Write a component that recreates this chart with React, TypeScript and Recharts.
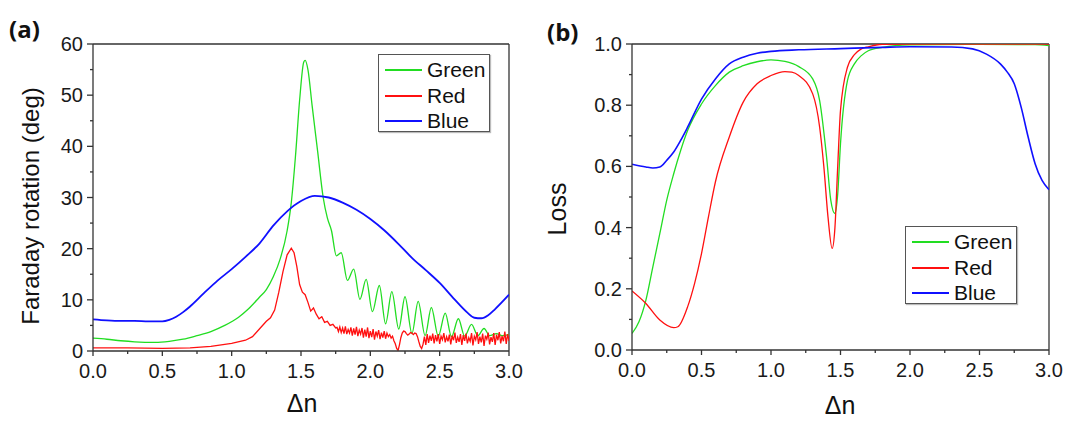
import React from "react";
import { LineChart, Line, XAxis, YAxis, ReferenceLine } from "recharts";

// Δn axis (shared by both panels)
const deltaNTicks = [0, 0.25, 0.5, 0.75, 1, 1.25, 1.5, 1.75, 2, 2.25, 2.5, 2.75, 3];
const deltaNLabels = [0, 0.5, 1, 1.5, 2, 2.5, 3];

// panel (a) y axis
const rotationTicks = [0, 5, 10, 15, 20, 25, 30, 35, 40, 45, 50, 55, 60];
const rotationLabels = [0, 10, 20, 30, 40, 50, 60];

// panel (b) y axis
const lossTicks = [0, 0.1, 0.2, 0.3, 0.4, 0.5, 0.6, 0.7, 0.8, 0.9, 1];
const lossLabels = [0, 0.2, 0.4, 0.6, 0.8, 1];

// Faraday rotation (deg) vs Δn
const rotationGreen: [number, number][] = [
  [0, 2.5], [0.1, 2.3], [0.2, 2.0], [0.3, 1.8], [0.45, 1.7], [0.55, 1.9], [0.65, 2.3],
  [0.75, 3.0], [0.85, 3.8], [0.95, 5.0], [1.05, 6.6], [1.12, 8.2], [1.2, 10.5], [1.25, 12.0],
  [1.3, 14.5], [1.35, 18.0], [1.4, 23.5], [1.43, 29], [1.46, 38], [1.49, 49], [1.52, 56.5],
  [1.53, 56.8], [1.55, 55], [1.58, 48], [1.62, 39], [1.66, 30], [1.69, 26], [1.72, 23.5],
  [1.755, 18.6], [1.79, 19.2], [1.835, 13.8], [1.88, 16.0], [1.925, 10.1], [1.97, 14.0],
  [2.015, 7.7], [2.065, 12.8], [2.11, 5.3], [2.155, 11.6], [2.205, 4.3], [2.25, 10.6],
  [2.3, 3.4], [2.345, 9.7], [2.395, 3.0], [2.44, 8.5], [2.49, 2.9], [2.54, 7.4], [2.585, 2.8],
  [2.635, 6.3], [2.68, 2.9], [2.73, 5.2], [2.775, 3.0], [2.82, 4.4], [2.86, 3.0], [2.91, 3.4],
  [2.95, 3.0], [3.0, 3.2],
];

const rotationRed: [number, number][] = [
  [0, 0.6], [0.25, 0.6], [0.5, 0.5], [0.7, 0.6], [0.85, 0.9], [1.0, 1.5], [1.1, 2.1],
  [1.15, 2.8], [1.2, 4.3], [1.25, 5.8], [1.28, 6.5], [1.31, 8.0], [1.34, 11.5], [1.37, 15.5],
  [1.4, 18.8], [1.43, 20.1], [1.45, 19.2], [1.47, 16.5], [1.49, 13], [1.51, 11.5], [1.53, 11.0],
  [1.55, 9.5], [1.57, 7.8], [1.59, 8.4], [1.61, 7.2], [1.63, 6.3], [1.65, 6.7], [1.67, 5.6],
  [1.69, 5.8], [1.71, 5.0], [1.73, 5.2], [1.75, 4.5],
  [1.76, 4.6], [1.77, 3.8], [1.78, 4.7], [1.79, 3.6], [1.8, 4.5], [1.81, 3.4], [1.82, 4.8],
  [1.83, 3.3], [1.84, 4.2], [1.85, 3.5], [1.86, 4.6], [1.87, 3.0], [1.88, 4.4], [1.89, 3.2],
  [1.9, 4.7], [1.91, 2.9], [1.92, 4.1], [1.93, 3.3], [1.94, 4.5], [1.95, 2.6], [1.96, 4.2],
  [1.97, 2.8], [1.98, 4.6], [1.99, 2.5], [2.0, 3.9], [2.01, 2.7], [2.02, 4.3], [2.03, 2.2],
  [2.04, 3.8], [2.05, 2.9], [2.06, 4.1], [2.07, 2.3], [2.08, 3.6], [2.09, 2.6], [2.1, 3.9],
  [2.11, 2.4], [2.12, 3.5], [2.13, 2.8], [2.14, 3.2], [2.15, 2.5], [2.16, 2.9], [2.17, 2.0],
  [2.18, 1.4], [2.19, 0.5], [2.2, 0.1], [2.21, 1.2], [2.22, 2.6], [2.23, 3.5], [2.24, 3.9],
  [2.25, 3.8], [2.26, 3.4], [2.27, 3.1], [2.28, 3.3], [2.29, 3.6], [2.3, 3.5], [2.31, 3.2],
  [2.32, 3.5], [2.33, 3.4], [2.34, 2.8], [2.35, 1.8], [2.36, 0.9], [2.37, 0.5], [2.38, 1.3],
  [2.39, 2.8], [2.4, 1.2], [2.41, 3.3], [2.42, 1.6], [2.43, 3.0], [2.44, 2.0], [2.45, 3.4],
  [2.46, 1.5], [2.47, 3.1], [2.48, 1.9], [2.49, 3.3], [2.5, 1.4], [2.51, 2.9], [2.52, 2.2],
  [2.53, 3.5], [2.54, 1.7], [2.55, 2.8], [2.56, 1.9], [2.57, 3.2], [2.58, 1.3], [2.59, 3.0],
  [2.6, 2.1], [2.61, 3.6], [2.62, 1.6], [2.63, 2.7], [2.64, 1.8], [2.65, 3.3], [2.66, 1.2],
  [2.67, 3.1], [2.68, 2.0], [2.69, 3.4], [2.7, 1.5], [2.71, 2.6], [2.72, 1.9], [2.73, 3.5],
  [2.74, 1.1], [2.75, 2.9], [2.76, 2.2], [2.77, 3.7], [2.78, 1.4], [2.79, 2.8], [2.8, 1.7],
  [2.81, 3.4], [2.82, 1.0], [2.83, 3.0], [2.84, 2.3], [2.85, 3.6], [2.86, 1.3], [2.87, 2.7],
  [2.88, 1.8], [2.89, 3.5], [2.9, 1.2], [2.91, 3.2], [2.92, 2.1], [2.93, 3.7], [2.94, 1.5],
  [2.95, 2.9], [2.96, 1.9], [2.97, 3.8], [2.98, 1.4], [2.99, 3.3], [3.0, 2.0],
];

const rotationBlue: [number, number][] = [
  [0, 6.2], [0.1, 6.0], [0.2, 5.9], [0.3, 5.9], [0.4, 5.8], [0.5, 5.8], [0.55, 6.1],
  [0.6, 6.7], [0.65, 7.6], [0.7, 8.7], [0.8, 11.3], [0.9, 13.8], [1.0, 16.0], [1.1, 18.4],
  [1.2, 21.0], [1.3, 24.5], [1.4, 27.3], [1.5, 29.3], [1.6, 30.3], [1.7, 30.0], [1.8, 29.0],
  [1.9, 27.6], [2.0, 25.8], [2.1, 23.6], [2.2, 21.0], [2.3, 18.2], [2.4, 15.8], [2.5, 13.3],
  [2.6, 10.3], [2.7, 7.5], [2.75, 6.5], [2.8, 6.4], [2.85, 7.0], [2.9, 8.2], [3.0, 11.0],
];

// Loss vs Δn
const lossGreen: [number, number][] = [
  [0, 0.054], [0.05, 0.092], [0.1, 0.163], [0.15, 0.272], [0.2, 0.38], [0.25, 0.49],
  [0.3, 0.576], [0.35, 0.652], [0.4, 0.717], [0.5, 0.804], [0.6, 0.864], [0.7, 0.908],
  [0.8, 0.929], [0.9, 0.942], [1.0, 0.948], [1.1, 0.943], [1.2, 0.926], [1.3, 0.886],
  [1.35, 0.815], [1.4, 0.63], [1.43, 0.49], [1.46, 0.446], [1.48, 0.51], [1.5, 0.674],
  [1.55, 0.88], [1.6, 0.935], [1.65, 0.962], [1.7, 0.978], [1.8, 0.989], [2.0, 0.997],
  [2.5, 0.999], [2.9, 0.998], [3.0, 0.995],
];

const lossRed: [number, number][] = [
  [0, 0.193], [0.1, 0.152], [0.2, 0.098], [0.3, 0.073], [0.33, 0.076], [0.4, 0.141],
  [0.45, 0.217], [0.5, 0.315], [0.55, 0.435], [0.6, 0.549], [0.7, 0.696], [0.8, 0.81],
  [0.9, 0.87], [1.0, 0.897], [1.1, 0.91], [1.15, 0.908], [1.2, 0.897], [1.3, 0.837],
  [1.35, 0.728], [1.38, 0.6], [1.41, 0.435], [1.44, 0.332], [1.46, 0.4], [1.48, 0.6],
  [1.5, 0.783], [1.55, 0.924], [1.6, 0.965], [1.65, 0.984], [1.7, 0.991], [1.8, 0.999],
  [2.0, 1.0], [3.0, 1.0],
];

const lossBlue: [number, number][] = [
  [0, 0.607], [0.1, 0.598], [0.15, 0.595], [0.2, 0.598], [0.25, 0.62], [0.3, 0.647],
  [0.35, 0.685], [0.4, 0.728], [0.5, 0.82], [0.6, 0.886], [0.7, 0.935], [0.8, 0.957],
  [0.9, 0.97], [1.0, 0.976], [1.2, 0.981], [1.5, 0.985], [1.8, 0.989], [2.0, 0.991],
  [2.3, 0.99], [2.45, 0.984], [2.55, 0.967], [2.65, 0.935], [2.7, 0.908], [2.75, 0.87],
  [2.8, 0.793], [2.85, 0.696], [2.9, 0.609], [2.95, 0.554], [3.0, 0.524],
];

const GREEN = "#22dd22";
const RED = "#ff1010";
const BLUE = "#1010ff";
const AXIS = "#333";
const FONT = "'Liberation Sans', Arial, sans-serif";

const toRows = (pts: [number, number][]) => pts.map(([x, y]) => ({ x, y }));

const legendItems = [
  { name: "Green", color: GREEN },
  { name: "Red", color: RED },
  { name: "Blue", color: BLUE },
];

const near = (list: number[], v: number) => list.some(m => Math.abs(m - v) < 1e-6);

// bottom axis tick: long tick + label on majors, short tick on minors
const bottomTick = (majors: number[]) => (props: any) => {
  const { x, y, payload } = props;
  const major = near(majors, payload.value);
  return (
    <g>
      <line x1={x} x2={x} y1={y} y2={y + (major ? 5 : 3)} stroke={AXIS} strokeWidth={1.3} />
      {major && (
        <text x={x} y={y + 27} textAnchor="middle" fontSize={20} fontFamily={FONT} fill="#1a1a1a">
          {payload.value.toFixed(1)}
        </text>
      )}
    </g>
  );
};

const leftTick = (majors: number[], digits: number) => (props: any) => {
  const { x, y, payload } = props;
  const major = near(majors, payload.value);
  return (
    <g>
      <line x1={x} x2={x - (major ? 6 : 3)} y1={y} y2={y} stroke={AXIS} strokeWidth={1.3} />
      {major && (
        <text x={x - 10} y={y + 7} textAnchor="end" fontSize={20} fontFamily={FONT} fill="#1a1a1a">
          {payload.value.toFixed(digits)}
        </text>
      )}
    </g>
  );
};

function LegendBox({ left, top }: { left: number; top: number }) {
  return (
    <div
      style={{
        position: "absolute", left, top, width: 110, height: 76,
        border: "1.3px solid #555", background: "#fff", boxShadow: "1px 1px 1px #bbb",
        fontFamily: FONT, fontSize: 21, color: "#111",
      }}
    >
      {legendItems.map((it, i) => (
        <div key={it.name} style={{ position: "absolute", left: 0, top: 3 + i * 25.5, height: 24, display: "flex", alignItems: "center" }}>
          <div style={{ marginLeft: 6, width: 37, height: 2, background: it.color }} />
          <span style={{ marginLeft: 5 }}>{it.name}</span>
        </div>
      ))}
    </div>
  );
}

const textStyle: React.CSSProperties = { position: "absolute", fontFamily: FONT, color: "#111", whiteSpace: "nowrap" };

function PanelA() {
  return (
    <div style={{ position: "absolute", left: 0, top: 0, width: 540, height: 421 }}>
      <LineChart width={540} height={421} margin={{ top: 44, right: 31, bottom: 40, left: 53 }}>
        <XAxis
          type="number" dataKey="x" domain={[0, 3]} ticks={deltaNTicks} height={30}
          tickSize={0} tickMargin={0} tickLine={false} stroke={AXIS} strokeWidth={1.3}
          tick={bottomTick(deltaNLabels)} interval={0} allowDataOverflow
        />
        <YAxis
          type="number" domain={[0, 60]} ticks={rotationTicks} width={40}
          tickSize={0} tickMargin={0} tickLine={false} stroke={AXIS} strokeWidth={1.3}
          tick={leftTick(rotationLabels, 0)} interval={0} allowDataOverflow
        />
        <ReferenceLine y={60} stroke={AXIS} strokeWidth={1.3} />
        <ReferenceLine x={3} stroke={AXIS} strokeWidth={1.3} />
        <Line data={toRows(rotationGreen)} dataKey="y" type="monotone" stroke={GREEN} strokeWidth={1.3} dot={false} isAnimationActive={false} />
        <Line data={toRows(rotationRed)} dataKey="y" type="linear" stroke={RED} strokeWidth={1.3} dot={false} isAnimationActive={false} />
        <Line data={toRows(rotationBlue)} dataKey="y" type="monotone" stroke={BLUE} strokeWidth={1.8} dot={false} isAnimationActive={false} />
      </LineChart>
      <LegendBox left={378} top={54} />
      <div style={{ ...textStyle, left: 9, top: 12, fontFamily: "'Open Sans', sans-serif", fontWeight: 700, fontSize: 24 }}>(a)</div>
      <div style={{ ...textStyle, left: 31, top: 206, fontSize: 24, transform: "translate(-50%, -50%) rotate(-90deg)" }}>
        Faraday rotation (deg)
      </div>
      <div style={{ ...textStyle, left: 302, top: 403, fontSize: 25, transform: "translate(-50%, -50%)" }}>Δn</div>
    </div>
  );
}

function PanelB() {
  return (
    <div style={{ position: "absolute", left: 540, top: 0, width: 525, height: 421 }}>
      <LineChart width={525} height={421} margin={{ top: 44, right: 16, bottom: 41, left: 52 }}>
        <XAxis
          type="number" dataKey="x" domain={[0, 3]} ticks={deltaNTicks} height={30}
          tickSize={0} tickMargin={0} tickLine={false} stroke={AXIS} strokeWidth={1.3}
          tick={bottomTick(deltaNLabels)} interval={0} allowDataOverflow
        />
        <YAxis
          type="number" domain={[0, 1]} ticks={lossTicks} width={40}
          tickSize={0} tickMargin={0} tickLine={false} stroke={AXIS} strokeWidth={1.3}
          tick={leftTick(lossLabels, 1)} interval={0} allowDataOverflow
        />
        <ReferenceLine y={1} stroke={AXIS} strokeWidth={1.3} />
        <ReferenceLine x={3} stroke={AXIS} strokeWidth={1.3} />
        <Line data={toRows(lossGreen)} dataKey="y" type="monotone" stroke={GREEN} strokeWidth={1.3} dot={false} isAnimationActive={false} />
        <Line data={toRows(lossRed)} dataKey="y" type="monotone" stroke={RED} strokeWidth={1.3} dot={false} isAnimationActive={false} />
        <Line data={toRows(lossBlue)} dataKey="y" type="monotone" stroke={BLUE} strokeWidth={1.6} dot={false} isAnimationActive={false} />
      </LineChart>
      <LegendBox left={365} top={226} />
      <div style={{ ...textStyle, left: 7, top: 15, fontFamily: "'Open Sans', sans-serif", fontWeight: 700, fontSize: 24 }}>(b)</div>
      <div style={{ ...textStyle, left: 17, top: 209, fontSize: 25, transform: "translate(-50%, -50%) rotate(-90deg)" }}>Loss</div>
      <div style={{ ...textStyle, left: 300, top: 405, fontSize: 25, transform: "translate(-50%, -50%)" }}>Δn</div>
    </div>
  );
}

export default function App() {
  return (
    <div style={{ position: "absolute", left: 0, top: 0, width: 1065, height: 421, background: "#fff", overflow: "hidden" }}>
      <PanelA />
      <PanelB />
    </div>
  );
}
